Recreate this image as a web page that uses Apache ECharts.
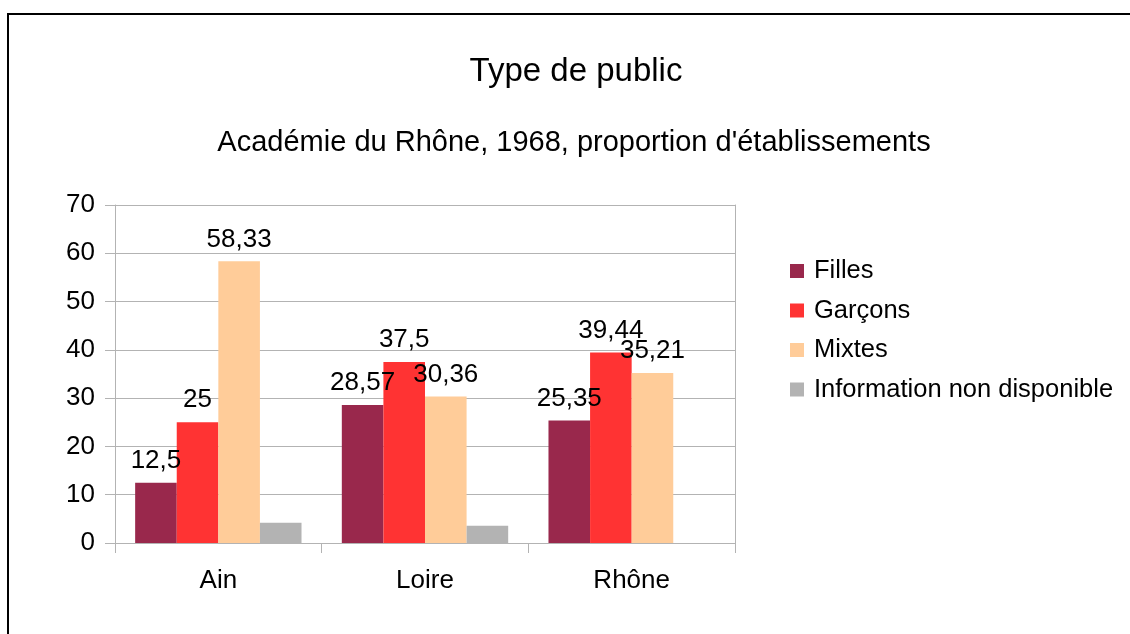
<!DOCTYPE html>
<html>
<head>
<meta charset="utf-8">
<script src="https://cdn.jsdelivr.net/npm/echarts@6/dist/echarts.min.js"></script>
<style>
html,body{margin:0;padding:0;background:#fff;}
#chart{width:1130px;height:634px;}
</style>
</head>
<body>
<div id="chart"></div>
<script>
const categories = ['Ain', 'Loire', 'Rhône'];
const filles = [12.5, 28.57, 25.35];
const garcons = [25, 37.5, 39.44];
const mixtes = [58.33, 30.36, 35.21];
const infoNonDispo = [4.17, 3.57, 0];
const seriesNames = ['Filles', 'Garçons', 'Mixtes', 'Information non disponible'];
const colors = ['#99284c', '#ff3333', '#ffcc99', '#b3b3b3'];

const FONT = '"Liberation Sans", Arial, sans-serif';
const chart = echarts.init(document.getElementById('chart'), null, {renderer: 'canvas'});

const lbl = {
  show: true, position: 'top', distance: 9, color: '#000',
  fontSize: 26, fontFamily: FONT,
  formatter: p => String(p.value).replace('.', ',')
};
function mk(i, data, withLabel) {
  return {
    name: seriesNames[i], type: 'bar', data: data,
    itemStyle: {color: colors[i]},
    barGap: '0%', barCategoryGap: '19.5%',
    label: withLabel ? lbl : {show: false},
    emphasis: {disabled: true}
  };
}

chart.setOption({
  animation: false,
  textStyle: {fontFamily: FONT},
  graphic: [{
    type: 'rect', shape: {x: 8, y: 14, width: 1200, height: 700},
    style: {fill: 'none', stroke: '#000', lineWidth: 2}, silent: true
  }],
  title: [
    {text: 'Type de public', left: 571, textAlign: 'center', top: 50,
     textStyle: {fontSize: 33, fontWeight: 'normal', color: '#000', fontFamily: FONT}},
    {text: "Académie du Rhône, 1968, proportion d'établissements", left: 569, textAlign: 'center', top: 123,
     textStyle: {fontSize: 29, fontWeight: 'normal', color: '#000', fontFamily: FONT}}
  ],
  legend: {
    orient: 'vertical', left: 790, top: 258, padding: 0,
    itemWidth: 14, itemHeight: 14, itemGap: 13.5,
    icon: 'rect',
    textStyle: {fontSize: 25.5, color: '#000', fontFamily: FONT, padding: [0, 0, 0, 5]},
    data: seriesNames
  },
  grid: {left: 115, right: 395, top: 205, bottom: 91, containLabel: false},
  xAxis: {
    type: 'category', data: categories,
    axisLine: {show: true, lineStyle: {color: '#b3b3b3', width: 1}},
    axisTick: {show: true, length: 10, lineStyle: {color: '#b3b3b3'}},
    axisLabel: {fontSize: 26, color: '#000', margin: 25, fontFamily: FONT},
    splitLine: {show: false}
  },
  yAxis: [{
    type: 'value', min: 0, max: 70, interval: 10,
    axisLine: {show: true, lineStyle: {color: '#b3b3b3', width: 1}},
    axisTick: {show: true, length: 10, lineStyle: {color: '#b3b3b3'}},
    axisLabel: {fontSize: 26, color: '#000', margin: 20, fontFamily: FONT},
    splitLine: {show: true, lineStyle: {color: '#b3b3b3', width: 1}}
  }, {
    type: 'value', min: 0, max: 70, interval: 10, position: 'right',
    axisLine: {show: true, lineStyle: {color: '#b3b3b3', width: 1}},
    axisTick: {show: false}, axisLabel: {show: false}, splitLine: {show: false}
  }],
  series: [
    mk(0, filles, true),
    mk(1, garcons, true),
    mk(2, mixtes, true),
    mk(3, infoNonDispo, false)
  ]
});
</script>
</body>
</html>
